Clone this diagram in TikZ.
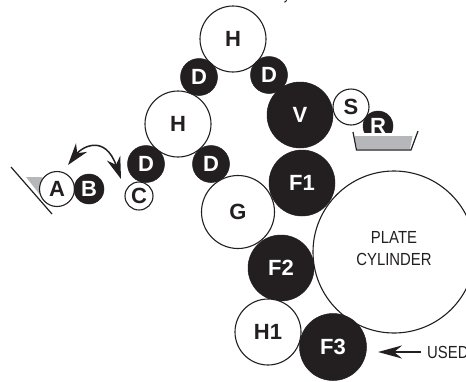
\documentclass[tikz,border=0pt]{standalone}
\usepackage{fontspec}
\setmainfont{Liberation Sans}
\newfontfamily\narrowfont[FakeStretch=0.85]{Liberation Sans}
\usetikzlibrary{arrows.meta}
\definecolor{inkk}{HTML}{231F20}
\definecolor{traygray}{HTML}{B5B7BA}
\tikzset{
  x=1pt,y=-1pt,
  lightroll/.style={circle,draw=inkk,line width=1.1pt,fill=white,inner sep=0pt,text=inkk,font=\fontsize{22}{22}\selectfont\bfseries},
  darkroll/.style={circle,draw=inkk,line width=0.5pt,fill=inkk,inner sep=0pt,text=white,font=\fontsize{22}{22}\selectfont\bfseries},
  plain/.style={text=inkk,inner sep=0pt,align=center,font=\narrowfont\fontsize{17.5}{22}\selectfont},
  wire/.style={draw=inkk,line width=1.2pt},
  swingline/.style={draw=inkk,line width=1.5pt,{Stealth[length=22pt,width=14pt,inset=7pt]}-{Stealth[length=22pt,width=14pt,inset=7pt]}}
}
\begin{document}
\begin{tikzpicture}
\useasboundingbox (0,0) rectangle (466,381);
\clip (0,0) rectangle (466,381);
% plate cylinder first, others overlap
\node[lightroll,minimum size=162pt] (plate) at (394,252) {};
\node[plain] (platetext) at (394,249) {PLATE\\CYLINDER};
\node[lightroll,minimum size=66pt] (H1top) at (233,39) {H};
\node[lightroll,minimum size=66pt] (H2) at (178,124) {H};
\node[darkroll,minimum size=37pt] (D1) at (199,77) {D};
\node[darkroll,minimum size=37pt] (D2) at (269,75) {D};
\node[darkroll,minimum size=66pt] (V) at (300,115) {V};
\node[darkroll,minimum size=37pt] (D3) at (146,164) {D};
\node[darkroll,minimum size=37pt] (D4) at (211,164) {D};
\node[darkroll,minimum size=66pt] (F1) at (302,183) {F1};
\node[lightroll,minimum size=73pt] (G) at (238,212) {G};
\node[darkroll,minimum size=66pt] (F2) at (281,268) {F2};
\node[lightroll,minimum size=66pt] (H1) at (268,332) {H1};
\node[darkroll,minimum size=67pt] (F3) at (333,347) {F3};
% fountain right
\node[darkroll,minimum size=30pt] (R) at (378,126) {R};
\fill[white] (345,133) rectangle (425,160);
\fill[traygray] (354.5,136) -- (412.5,136) -- (410,149) -- (357,149) -- cycle;
\draw[wire] (353,132) -- (356.5,150) -- (411,150) -- (418,131);
\node[lightroll,minimum size=36pt] (S) at (351,107) {S};
% fountain left
\fill[traygray] (26,177) -- (42,177) -- (44,200) -- cycle;
\coordinate (blade1) at (11,167);
\coordinate (blade2) at (52,214);
\draw[wire] (blade1) -- (blade2);
\node[lightroll,minimum size=35pt] (A) at (57,189) {A};
\node[darkroll,minimum size=30pt] (B) at (89,189) {B};
\node[lightroll,minimum size=28pt] (C) at (139,196) {C};
% swing arrow
\coordinate (swingL) at (68,165);
\coordinate (swingR) at (121,179);
\draw[swingline] (swingL) .. controls (82,147) and (105,134) .. (swingR);
% used
\node[plain,anchor=west] (used) at (427,352) {USED};
\coordinate (usedtip) at (378,352);
\draw[inkk,line width=2.2pt,-{Stealth[length=24pt,width=13pt,inset=8pt]}] (used.west) ++(-6,0) -- (usedtip);
\fill[inkk] (284,2) -- (286.5,0) -- (287,0.8) -- (285,2.6) -- cycle;
\end{tikzpicture}
\end{document}
